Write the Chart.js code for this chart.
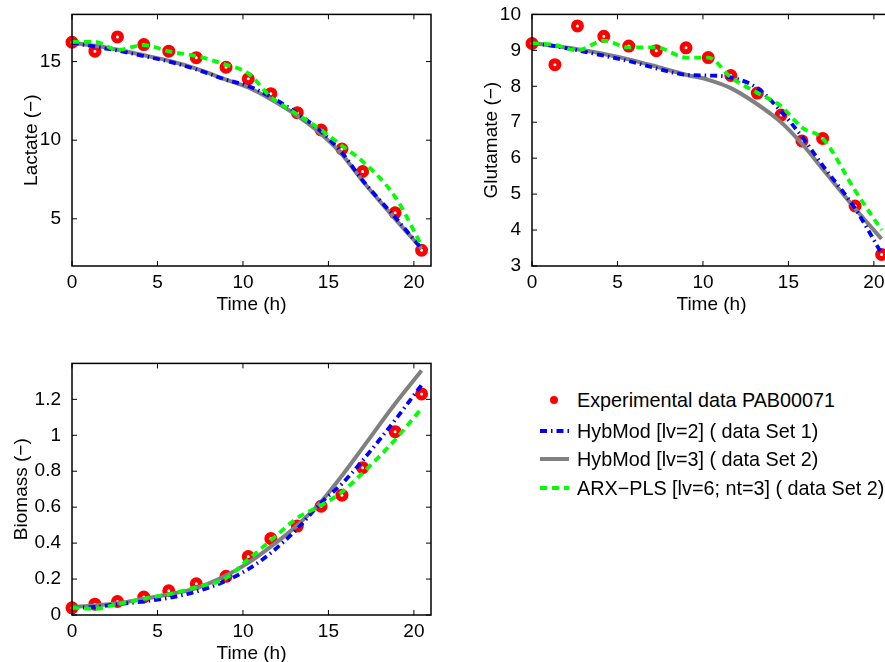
<!DOCTYPE html>
<html>
<head>
<meta charset="utf-8">
<script src="https://cdn.jsdelivr.net/npm/chart.js@4.4.1/dist/chart.umd.min.js"></script>
<style>
  body { margin: 0; background: #fff; }
  #page { position: relative; width: 885px; height: 662px; overflow: hidden; background: #fff;
          font-family: "Liberation Sans", Arial, Helvetica, sans-serif; }
  canvas.plot { position: absolute; }
  .lg-row { position: absolute; left: 538px; height: 28px; display: flex; align-items: center; }
  .lg-row canvas { width: 34px; height: 28px; margin-right: 5px; }
  .lg-row span { font-size: 19.8px; color: #000; white-space: nowrap; }
</style>
</head>
<body>
<div id="page">
  <canvas id="lactate" class="plot" width="440" height="316" style="left:0;top:0"></canvas>
  <canvas id="glutamate" class="plot" width="440" height="316" style="left:460px;top:0"></canvas>
  <canvas id="biomass" class="plot" width="440" height="316" style="left:0;top:349px"></canvas>
  <div id="legend"></div>
</div>
<script>
// sampling times of the experiment (h)
const timeH = [0, 1.34, 2.66, 4.2, 5.66, 7.27, 9.01, 10.31, 11.63, 13.18, 14.57, 15.79, 17.0, 18.9, 20.45];

// Lactate
const lactateExp  = [16.23, 15.66, 16.57, 16.08, 15.66, 15.25, 14.64, 13.9, 12.96, 11.75, 10.65, 9.44, 8.01, 5.38, 3.0];
const lactateHyb1 = [16.2, 15.95, 15.7, 15.35, 15.0, 14.5, 13.85, 13.45, 12.75, 11.7, 10.55, 9.2, 7.45, 5.1, 3.1];
const lactateHyb2 = [16.2, 16.0, 15.75, 15.4, 15.05, 14.55, 13.85, 13.35, 12.6, 11.55, 10.4, 9.1, 7.4, 5.0, 3.1];
const lactateArx  = [16.25, 16.25, 15.75, 16.05, 15.65, 15.35, 14.8, 14.25, 12.75, 11.65, 10.65, 9.65, 8.65, 6.4, 3.3];

// Glutamate
const glutamateExp  = [9.19, 8.6, 9.68, 9.39, 9.12, 8.99, 9.07, 8.8, 8.3, 7.81, 7.2, 6.48, 6.55, 4.67, 3.32];
const glutamateHyb1 = [9.2, 9.12, 9.0, 8.85, 8.7, 8.5, 8.32, 8.3, 8.25, 7.95, 7.3, 6.6, 5.8, 4.6, 3.35];
const glutamateHyb2 = [9.2, 9.12, 9.03, 8.9, 8.75, 8.55, 8.32, 8.18, 7.95, 7.5, 7.0, 6.4, 5.7, 4.6, 3.75];
const glutamateArx  = [9.2, 9.15, 9.0, 9.27, 9.08, 9.08, 8.8, 8.8, 8.25, 7.82, 7.45, 6.85, 6.55, 5.1, 4.0];

// Biomass
const biomassExp  = [0.04, 0.06, 0.075, 0.10, 0.135, 0.174, 0.215, 0.325, 0.425, 0.495, 0.605, 0.667, 0.82, 1.02, 1.23];
const biomassHyb1 = [0.04, 0.045, 0.06, 0.075, 0.095, 0.13, 0.19, 0.255, 0.345, 0.48, 0.625, 0.73, 0.86, 1.085, 1.28];
const biomassHyb2 = [0.045, 0.053, 0.065, 0.09, 0.115, 0.15, 0.22, 0.29, 0.38, 0.5, 0.63, 0.775, 0.93, 1.175, 1.36];
const biomassArx  = [0.04, 0.035, 0.06, 0.09, 0.115, 0.155, 0.205, 0.31, 0.415, 0.54, 0.61, 0.685, 0.79, 0.975, 1.15];

// tick labels
const timeTicks = [0, 5, 10, 15, 20];
const lactateTicks = [5, 10, 15];
const glutamateTicks = [3, 4, 5, 6, 7, 8, 9, 10];
const biomassTicks = [0, 0.2, 0.4, 0.6, 0.8, 1, 1.2];

const seriesNames = [
  'Experimental data PAB00071',
  'HybMod [lv=2] ( data Set 1)',
  'HybMod [lv=3] ( data Set 2)',
  'ARX\u2212PLS [lv=6; nt=3] ( data Set 2)'
];

const FONT = '"Liberation Sans", Arial, Helvetica, sans-serif';
const BLUE_DASH = [7, 4, 1.5, 4];
const GREEN_DASH = [7, 5];

function pts(ys) { return timeH.map((t, i) => ({ x: t, y: ys[i] })); }

function makeDatasets(exp, hyb1, hyb2, arx) {
  return [
    { label: seriesNames[0], data: pts(exp), showLine: false, pointRadius: 4, pointBorderWidth: 5,
      pointBorderColor: '#ff0000', pointBackgroundColor: '#ffffff', order: 4, clip: false },
    { label: seriesNames[1], data: pts(hyb1), borderColor: '#0000ff', borderWidth: 3.8, borderDash: BLUE_DASH,
      pointRadius: 0, cubicInterpolationMode: 'monotone', order: 2, clip: false },
    { label: seriesNames[2], data: pts(hyb2), borderColor: '#808080', borderWidth: 4,
      pointRadius: 0, cubicInterpolationMode: 'monotone', order: 3, clip: false },
    { label: seriesNames[3], data: pts(arx), borderColor: '#00ff00', borderWidth: 3.8, borderDash: GREEN_DASH,
      pointRadius: 0, cubicInterpolationMode: 'monotone', order: 1, clip: false }
  ];
}

// matlab style box with inward ticks
const boxPlugin = {
  id: 'box',
  afterDraw(chart) {
    const { ctx, chartArea: a, scales } = chart;
    ctx.save();
    ctx.strokeStyle = '#000';
    ctx.lineWidth = 1.5;
    ctx.strokeRect(a.left, a.top, a.right - a.left, a.bottom - a.top);
    ctx.lineWidth = 1;
    ctx.beginPath();
    scales.x.ticks.forEach(t => {
      const px = scales.x.getPixelForValue(t.value);
      ctx.moveTo(px, a.bottom); ctx.lineTo(px, a.bottom - 5);
      ctx.moveTo(px, a.top); ctx.lineTo(px, a.top + 5);
    });
    scales.y.ticks.forEach(t => {
      const py = scales.y.getPixelForValue(t.value);
      ctx.moveTo(a.left, py); ctx.lineTo(a.left + 5, py);
      ctx.moveTo(a.right, py); ctx.lineTo(a.right - 5, py);
    });
    ctx.stroke();
    ctx.restore();
  }
};

function makeChart(id, datasets, yTitle, yMin, yMax, yTicks, titlePad) {
  return new Chart(document.getElementById(id), {
    type: 'line',
    data: { datasets },
    plugins: [boxPlugin],
    options: {
      responsive: false,
      animation: false,
      devicePixelRatio: 1,
      layout: { padding: { top: 14, right: 7, left: 0, bottom: 0 } },
      plugins: { legend: { display: false }, tooltip: { enabled: false } },
      scales: {
        x: {
          type: 'linear', min: 0, max: 21,
          afterBuildTicks: s => { s.ticks = timeTicks.map(v => ({ value: v })); },
          afterFit: s => { s.height = 50; },
          grid: { display: false }, border: { display: false },
          ticks: { color: '#000', font: { family: FONT, size: 19 }, padding: -3, maxRotation: 0 },
          title: { display: true, text: 'Time (h)', color: '#000', font: { family: FONT, size: 19 },
                   padding: { top: 0, bottom: 0 } }
        },
        y: {
          type: 'linear', min: yMin, max: yMax,
          afterBuildTicks: s => { s.ticks = yTicks.map(v => ({ value: v })); },
          afterFit: s => { s.width = 72; },
          grid: { display: false }, border: { display: false },
          ticks: { color: '#000', font: { family: FONT, size: 19 }, padding: 3, callback: v => String(v) },
          title: { display: true, text: yTitle, color: '#000', font: { family: FONT, size: 19 },
                   padding: { top: titlePad, bottom: 0 } }
        }
      }
    }
  });
}

makeChart('lactate', makeDatasets(lactateExp, lactateHyb1, lactateHyb2, lactateArx),
  'Lactate (\u2212)', 2, 18, lactateTicks, 20);
makeChart('glutamate', makeDatasets(glutamateExp, glutamateHyb1, glutamateHyb2, glutamateArx),
  'Glutamate (\u2212)', 3, 10, glutamateTicks, 20);
makeChart('biomass', makeDatasets(biomassExp, biomassHyb1, biomassHyb2, biomassArx),
  'Biomass (\u2212)', 0, 1.4, biomassTicks, 10);

// legend
const legendRows = [400, 431, 459, 488];
const legend = document.getElementById('legend');
seriesNames.forEach((name, i) => {
  const row = document.createElement('div');
  row.className = 'lg-row';
  row.style.top = (legendRows[i] - 14) + 'px';
  const c = document.createElement('canvas');
  c.width = 34; c.height = 28;
  const g = c.getContext('2d');
  if (i === 0) {
    g.beginPath(); g.arc(16, 14, 2, 0, Math.PI * 2);
    g.fillStyle = '#fff'; g.fill();
    g.lineWidth = 4; g.strokeStyle = '#ff0000'; g.stroke();
  } else {
    g.beginPath(); g.moveTo(2, 14); g.lineTo(31, 14);
    g.lineWidth = i === 2 ? 4 : 3.8;
    g.strokeStyle = ['', '#0000ff', '#808080', '#00ff00'][i];
    g.setLineDash(i === 1 ? BLUE_DASH : i === 3 ? GREEN_DASH : []);
    g.stroke();
  }
  const s = document.createElement('span');
  s.textContent = name;
  row.appendChild(c); row.appendChild(s);
  legend.appendChild(row);
});
</script>
</body>
</html>
